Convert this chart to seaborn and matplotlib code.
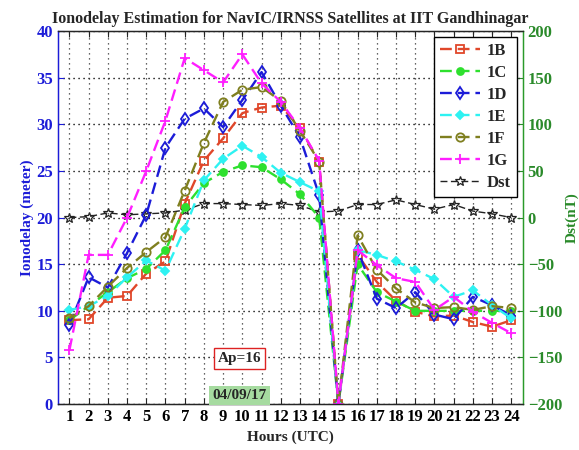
import matplotlib
matplotlib.use("Agg")
import matplotlib.pyplot as plt
import seaborn as sns
import pandas as pd
import numpy as np

hours = list(range(1, 25))
s1B = [9.0, 9.1, 11.4, 11.6, 14.0, 15.3, 21.5, 26.1, 28.5, 31.2, 31.8, 32.0, 29.6, 26.0, 0.0, 16.0, 13.1, 11.1, 9.9, 9.4, 9.5, 8.8, 8.3, 9.0]
s1C = [9.0, 10.5, 12.0, 13.5, 14.5, 16.5, 21.1, 23.7, 24.9, 25.6, 25.4, 24.1, 22.5, 20.0, 0.0, 15.0, 12.0, 11.0, 10.0, 10.0, 10.0, 10.0, 10.0, 10.0]
s1D = [8.5, 13.6, 12.5, 16.2, 20.3, 27.5, 30.6, 31.7, 29.7, 32.6, 35.6, 32.0, 28.6, 22.4, 0.0, 16.5, 11.3, 10.3, 12.0, 9.6, 9.1, 11.5, 10.6, 9.5]
s1E = [10.1, 10.5, 11.6, 13.6, 15.4, 14.3, 18.8, 24.0, 26.3, 27.7, 26.5, 24.8, 23.8, 22.8, 0.0, 16.5, 16.0, 15.3, 14.4, 13.4, 11.5, 12.2, 10.6, 9.2]
s1F = [9.2, 10.5, 12.6, 14.6, 16.3, 17.9, 22.9, 28.0, 32.4, 33.7, 34.0, 32.5, 29.3, 26.0, 0.0, 18.1, 14.4, 12.4, 10.9, 10.3, 10.4, 10.1, 10.5, 10.3]
s1G = [5.8, 16.0, 16.0, 20.0, 25.0, 30.4, 37.1, 35.8, 34.5, 37.5, 34.4, 32.4, 29.6, 26.1, 0.0, 16.5, 14.9, 13.5, 13.1, 10.1, 11.5, 9.9, 8.7, 7.6]
dst = [0, 1, 5, 3, 4, 5, 8, 15, 15, 14, 13, 15, 13, 6, 7, 14, 14, 19, 14, 9, 14, 7, 4, 0]

series = [
    ("1B", s1B, "#e0472a", "s", "none", 6),
    ("1C", s1C, "#2ee02e", "o", "#2ee02e", 5),
    ("1D", s1D, "#1c1cd8", "d", "none", 6),
    ("1E", s1E, "#2ef2f2", "D", "#2ef2f2", 4.5),
    ("1F", s1F, "#7f7f1f", "o", "none", 6),
    ("1G", s1G, "#ff1eff", "+", "#ff1eff", 7),
]

sns.set_style("ticks")
plt.rcParams['font.family'] = ['Liberation Serif', 'DejaVu Serif']
plt.rcParams['font.weight'] = 'bold'

fig = plt.figure(figsize=(5.79, 4.5), dpi=100)
ax = fig.add_axes([0.100, 0.102, 0.803, 0.829])
ax2 = ax.twinx()

handles = []
for name, vals, col, mk, fc, ms in series:
    df = pd.DataFrame({"h": hours, "v": vals})
    sns.lineplot(data=df, x="h", y="v", ax=ax, color=col, marker=mk,
                 markerfacecolor=fc, markeredgecolor=col, markersize=ms,
                 markeredgewidth=1.3, linewidth=1.7, linestyle=(0, (5, 2.5)),
                 label=name, legend=False)
    handles.append(ax.lines[-1])

dfd = pd.DataFrame({"h": hours, "v": dst})
sns.lineplot(data=dfd, x="h", y="v", ax=ax2, color="#222222", marker="*",
             markerfacecolor="none", markeredgecolor="#222222", markersize=7,
             markeredgewidth=0.9, linewidth=1.0, linestyle=(0, (5, 2.5)),
             label="Dst", legend=False)
handles.append(ax2.lines[-1])

ax.set_xlim(0.4, 24.6)
ax.set_ylim(0, 40)
ax2.set_ylim(-200, 200)
ax.set_xticks(hours)
ax.set_yticks(np.arange(0, 41, 5))
ax2.set_yticks(np.arange(-200, 201, 50))
ax.grid(True, linestyle=(0, (1, 3)), color="#333333", linewidth=0.9)
ax2.grid(True, axis="y", linestyle=(0, (1, 3)), color="#333333", linewidth=0.9)

ax.tick_params(axis="x", direction="in", top=True, labelsize=12, length=4)
ax.tick_params(axis="y", direction="in", colors="#1c1cd8", labelsize=12, length=4)
ax2.tick_params(axis="y", direction="in", colors="#2a8a2a", labelsize=12, length=4)
for lab in ax.get_xticklabels():
    lab.set_color("black")
ax.spines["left"].set_color("#1c1cd8")
ax2.spines["left"].set_color("#1c1cd8")
ax2.spines["right"].set_color("#2a9a2a")
ax.spines["right"].set_color("#2a9a2a")
for sp in ax.spines.values():
    sp.set_linewidth(1.0)

ax.set_xlabel("Hours (UTC)", fontsize=11, fontweight="bold")
ax.set_ylabel("Ionodelay (meter)", fontsize=11, fontweight="bold", color="#1c1cd8", labelpad=2)
ax2.set_ylabel("Dst(nT)", fontsize=11, fontweight="bold", color="#2a8a2a", labelpad=2)
ax.set_title("Ionodelay Estimation for NavIC/IRNSS Satellites at IIT Gandhinagar",
             fontsize=11.5, fontweight="bold", pad=6)

ax.set_zorder(ax2.get_zorder() + 1)
ax.patch.set_visible(False)

leg = ax.legend(handles=handles, labels=[h.get_label() for h in handles],
                loc="upper right", fontsize=12, frameon=True, fancybox=False,
                edgecolor="black", handlelength=2.4, borderpad=0.35,
                labelspacing=0.36, handletextpad=0.4, framealpha=1.0,
                borderaxespad=0.0, bbox_to_anchor=(0.987, 0.983))
leg.get_frame().set_linewidth(1.0)

ax.text(9.85, 4.9, "Ap=16", ha="center", va="center", fontsize=11, fontweight="bold",
        bbox=dict(boxstyle="square,pad=0.25", facecolor="white", edgecolor="#dd2222", linewidth=1.0))
ax.text(9.85, 0.9, "04/09/17", ha="center", va="center", fontsize=11, fontweight="bold",
        bbox=dict(boxstyle="square,pad=0.2", facecolor="#a6dba0", edgecolor="none"))

fig.savefig("out.png", dpi=100)
